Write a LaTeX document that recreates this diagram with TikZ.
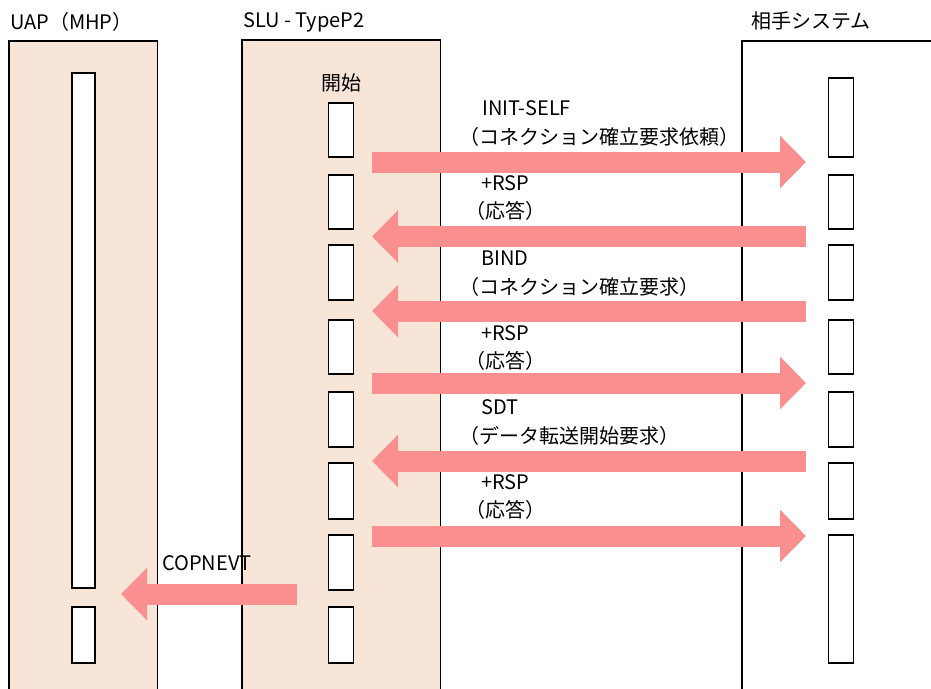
\documentclass[tikz,border=0pt]{standalone}
\usepackage{fontspec}
\setmainfont{Noto Sans CJK JP}
\usetikzlibrary{arrows.meta}
\definecolor{panelfill}{HTML}{F7E6D8}
\definecolor{arrowcol}{HTML}{F98F8F}
\tikzset{
  panel/.style={draw=black, line width=1.3pt, fill=panelfill},
  extpanel/.style={draw=black, line width=1.3pt, fill=white},
  life/.style={draw=black, line width=1.3pt, fill=white, minimum width=25pt, inner sep=0pt},
  msg/.style={draw=arrowcol, line width=21pt, -{Triangle[length=26pt,width=51pt]}},
  lbl/.style={anchor=west, inner sep=0pt, font=\fontsize{20}{20}\selectfont},
}
\begin{document}
\begin{tikzpicture}[x=1pt,y=-1pt]
\useasboundingbox (0,0) rectangle (931,688);
\clip (0,0) rectangle (931,688);
% panels
\draw[panel] (9,41) rectangle (157.5,700);
\draw[panel] (242,40) rectangle (440.5,700);
\draw[extpanel] (742,41) rectangle (950,700);
% titles
\node[lbl] (tuap) at (10,22) {UAP（MHP）};
\node[lbl] (tslu) at (243,22) {SLU - TypeP2};
\node[lbl] (tpeer) at (751,21) {相手システム};
\node[lbl, anchor=center] (start) at (341,83) {開始};
% UAP lifeline boxes
\node[life, minimum width=23pt, minimum height=515pt] (u0) at (83.5,330.5) {};
\node[life, minimum width=23pt, minimum height=56pt] (u1) at (83.5,635) {};
% SLU lifeline boxes
\node[life, minimum height=54pt] (s0) at (341,130) {};
\node[life, minimum height=54pt] (s1) at (341,202) {};
\node[life, minimum height=55pt] (s2) at (341,272.5) {};
\node[life, minimum height=54pt] (s3) at (341,347) {};
\node[life, minimum height=55pt] (s4) at (341,419.5) {};
\node[life, minimum height=56pt] (s5) at (341,491) {};
\node[life, minimum height=55pt] (s6) at (341,562.5) {};
\node[life, minimum height=56pt] (s7) at (341,635) {};
% peer lifeline boxes
\node[life, minimum height=79pt] (r0) at (841,117.5) {};
\node[life, minimum height=54pt] (r1) at (841,202) {};
\node[life, minimum height=55pt] (r2) at (841,272.5) {};
\node[life, minimum height=54pt] (r3) at (841,347) {};
\node[life, minimum height=55pt] (r4) at (841,419.5) {};
\node[life, minimum height=56pt] (r5) at (841,491) {};
\node[life, minimum height=128pt] (r6) at (841,599) {};
% arrow end points
\coordinate (a1s) at (372,162);   \coordinate (a1e) at (806,162);
\coordinate (a2s) at (806,236.5); \coordinate (a2e) at (372,236.5);
\coordinate (a3s) at (806,311);   \coordinate (a3e) at (372,311);
\coordinate (a4s) at (372,383);   \coordinate (a4e) at (806,383);
\coordinate (a5s) at (806,461);   \coordinate (a5e) at (372,461);
\coordinate (a6s) at (372,536);   \coordinate (a6e) at (806,536);
\coordinate (a7s) at (297,594);   \coordinate (a7e) at (121,594);
\draw[msg] (a1s) -- (a1e);
\draw[msg] (a2s) -- (a2e);
\draw[msg] (a3s) -- (a3e);
\draw[msg] (a4s) -- (a4e);
\draw[msg] (a5s) -- (a5e);
\draw[msg] (a6s) -- (a6e);
\draw[msg] (a7s) -- (a7e);
% labels
\node[lbl] (l1a) at (482,108) {INIT-SELF};
\node[lbl] (l1b) at (459,137) {（コネクション確立要求依頼）};
\node[lbl] (l2a) at (481,183) {+RSP};
\node[lbl] (l2b) at (465,211) {（応答）};
\node[lbl] (l3a) at (481,258) {BIND};
\node[lbl] (l3b) at (459,287) {（コネクション確立要求）};
\node[lbl] (l4a) at (481,333) {+RSP};
\node[lbl] (l4b) at (465,361) {（応答）};
\node[lbl] (l5a) at (481,407) {SDT};
\node[lbl] (l5b) at (459,436) {（データ転送開始要求）};
\node[lbl] (l6a) at (481,482) {+RSP};
\node[lbl] (l6b) at (465,510) {（応答）};
\node[lbl] (l7) at (162,563) {COPNEVT};
\end{tikzpicture}
\end{document}
